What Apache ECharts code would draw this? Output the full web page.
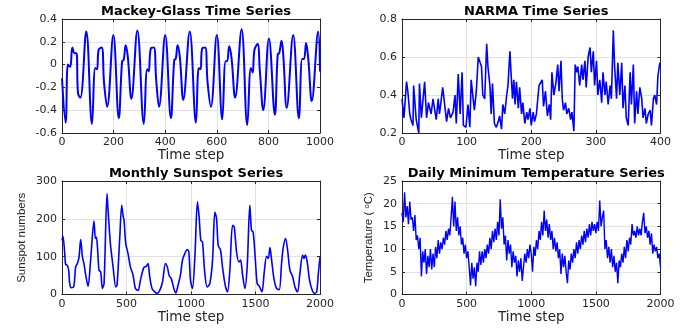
<!DOCTYPE html>
<html>
<head>
<meta charset="utf-8">
<script src="https://cdn.jsdelivr.net/npm/echarts@6/dist/echarts.min.js"></script>
<style>
  html, body { margin: 0; padding: 0; background: #fff; }
  #chart { width: 697px; height: 332px; }
</style>
</head>
<body>
<div id="chart"></div>
<script>
// Mackey-Glass: turning points
const mgT = [0, 14, 23, 32, 40, 49, 56, 62, 71, 94, 116, 129, 136, 142, 154, 163, 175, 199, 220, 233, 239, 247, 255, 269,
  292, 317, 330, 336, 344, 356, 365, 376, 400, 422, 435, 441, 448, 457, 470, 495, 519, 530, 537, 543, 555, 564, 577,
  600, 621, 634, 640, 648, 657, 671, 696, 718, 732, 739, 746, 758, 767, 780, 802, 825, 836, 842, 851, 858, 871, 896,
  918, 931, 938, 946, 955, 968, 993, 1000];
const mgV = [-0.12, -0.51, 0.0, -0.02, 0.15, 0.10, 0.10, -0.25, -0.29, 0.29, -0.52, -0.03, -0.04, 0.13, 0.15, -0.16, -0.37,
  0.26, -0.47, 0.03, 0.04, 0.17, 0.07, -0.30, 0.30, -0.52, -0.04, -0.06, 0.14, 0.15, -0.13, -0.37, 0.26, -0.47, 0.04,
  0.05, 0.17, 0.06, -0.31, 0.29, -0.51, -0.03, -0.04, 0.14, 0.15, -0.15, -0.37, 0.26, -0.48, 0.03, 0.03, 0.16, 0.06,
  -0.29, 0.31, -0.53, -0.03, -0.07, 0.13, 0.18, -0.06, -0.40, 0.23, -0.44, 0.09, 0.10, 0.21, 0.07, -0.38, 0.26, -0.47,
  0.05, 0.05, 0.19, 0.04, -0.32, 0.29, -0.06];

// NARMA
const narmaT = [0, 3, 7, 9, 12, 14, 17, 18, 22, 26, 27, 30, 33, 35, 38, 41, 45, 48, 53, 56, 58, 63, 66, 69, 72, 75, 79,
  82, 84, 87, 90, 93, 95, 99, 102, 105, 107, 110, 112, 115, 118, 120, 123, 125, 128, 131, 133, 136, 138, 140, 143, 146,
  149, 151, 154, 156, 159, 162, 164, 167, 169, 171, 173, 175, 177, 180, 182, 185, 187, 190, 193, 195, 198, 200, 203,
  205, 208, 212, 214, 217, 219, 222, 225, 228, 230, 232, 235, 238, 241, 243, 246, 248, 250, 253, 255, 258, 261, 263,
  266, 268, 270, 272, 275, 278, 280, 283, 285, 288, 291, 293, 296, 298, 301, 303, 306, 309, 311, 314, 316, 319, 322,
  324, 327, 329, 332, 334, 337, 340, 342, 345, 347, 350, 353, 355, 358, 360, 363, 365, 368, 371, 373, 376, 378, 381,
  384, 386, 389, 391, 394, 396, 399];
const narmaV = [0.38, 0.28, 0.47, 0.42, 0.30, 0.27, 0.24, 0.45, 0.27, 0.20, 0.46, 0.28, 0.29, 0.47, 0.28, 0.36, 0.30,
  0.38, 0.27, 0.38, 0.30, 0.44, 0.35, 0.26, 0.33, 0.28, 0.31, 0.40, 0.25, 0.51, 0.30, 0.52, 0.24, 0.23, 0.35, 0.23,
  0.48, 0.49, 0.32, 0.42, 0.60, 0.60, 0.55, 0.40, 0.38, 0.67, 0.55, 0.45, 0.30, 0.46, 0.25, 0.23, 0.26, 0.29, 0.22,
  0.35, 0.30, 0.40, 0.45, 0.63, 0.50, 0.38, 0.48, 0.35, 0.47, 0.33, 0.44, 0.30, 0.36, 0.25, 0.31, 0.27, 0.33, 0.24,
  0.31, 0.26, 0.30, 0.45, 0.44, 0.48, 0.34, 0.42, 0.29, 0.35, 0.27, 0.52, 0.40, 0.46, 0.56, 0.42, 0.58, 0.38, 0.32,
  0.36, 0.30, 0.33, 0.27, 0.31, 0.21, 0.56, 0.52, 0.55, 0.45, 0.56, 0.48, 0.58, 0.44, 0.60, 0.65, 0.52, 0.63, 0.45,
  0.58, 0.40, 0.48, 0.36, 0.52, 0.40, 0.47, 0.35, 0.45, 0.38, 0.74, 0.55, 0.38, 0.57, 0.40, 0.57, 0.33, 0.45, 0.28,
  0.24, 0.52, 0.35, 0.56, 0.25, 0.42, 0.30, 0.44, 0.38, 0.28, 0.33, 0.25, 0.30, 0.32, 0.24, 0.38, 0.40, 0.35, 0.50,
  0.57];

// monthly sunspots
const sunT = [0, 8, 21, 28, 41, 52, 60, 72, 91, 106, 119, 132, 145, 158, 171, 184, 202, 222, 248, 259, 266, 274, 287,
  300, 313, 326, 349, 357, 375, 396, 417, 427, 448, 463, 473, 481, 494, 512, 530, 551, 569, 590, 608, 634, 655, 667,
  680, 698, 719, 737, 758, 779, 802, 818, 830, 849, 867, 882, 900, 918, 934, 952, 970, 983, 996, 1011, 1030, 1050,
  1063, 1076, 1089, 1105, 1125, 1146, 1167, 1185, 1198, 1211, 1229, 1244, 1265, 1283, 1301, 1322, 1335, 1353, 1371,
  1384, 1400, 1418, 1436, 1456, 1469, 1482, 1500, 1513, 1529, 1550, 1568, 1586, 1599, 1612, 1625, 1643, 1663, 1684,
  1702, 1715, 1733, 1749, 1767, 1788, 1806, 1826, 1844, 1865, 1876, 1886, 1901, 1917, 1935, 1956, 1974, 1987, 2000];
const sunV = [143, 154, 108, 80, 77, 64, 29, 18, 20, 73, 82, 99, 145, 101, 80, 51, 22, 91, 194, 148, 152, 130, 64, 60,
  16, 29, 267, 223, 135, 73, 20, 25, 152, 236, 209, 196, 135, 108, 73, 51, 16, 11, 38, 71, 75, 82, 47, 16, 7, 3, 11,
  33, 82, 71, 51, 40, 16, 4, 25, 51, 91, 108, 119, 113, 38, 16, 99, 245, 205, 143, 139, 64, 20, 29, 91, 218, 201, 130,
  117, 73, 25, 7, 64, 183, 179, 113, 86, 91, 51, 16, 77, 236, 170, 165, 86, 29, 22, 7, 60, 101, 95, 124, 91, 42, 16,
  13, 82, 124, 148, 117, 64, 47, 20, 7, 55, 104, 95, 104, 86, 42, 16, 3, 7, 55, 99];

// daily minimum temperature, one reading every 10 steps
const TEMP_STEP = 10;
const tempV = [
  18, 16, 22.5, 17, 19.5, 15.5, 20.5, 16.5, 17, 14,
  17.5, 12, 13, 10, 12.5, 4, 9.5, 7, 10, 4.5,
  8.5, 6, 10, 5.5, 9, 6, 10.5, 8, 12, 9,
  11.5, 10, 12.5, 11, 14, 12, 14.5, 13, 17, 21.5,
  15, 20.5, 14, 17, 13, 15, 11, 12.5, 9, 11,
  8, 9.5, 6, 2, 7, 3.5, 6, 1.8, 7, 5,
  9.5, 6.5, 9.5, 7, 10, 8, 11, 9, 12.5, 10,
  14, 11.5, 14.5, 12, 16, 13, 21, 14.5, 17, 11,
  13, 7.5, 12, 9, 11, 6, 9.5, 7, 8.5, 4,
  7.5, 5, 8, 3, 6, 9, 7, 10, 8, 11,
  9, 5, 10.5, 8.5, 12, 10, 14, 12, 16, 13,
  18.5, 14, 16.5, 12.5, 15.5, 12, 14, 10, 12.5, 9.5,
  11.5, 8, 10, 4.5, 9, 6, 8.5, 5, 2.5, 7.5,
  5.5, 9, 7, 10, 8, 11.5, 9, 12, 10, 13,
  11, 14, 11.5, 14.5, 12.5, 15.5, 13, 16, 14, 15.5,
  13.5, 16, 14, 20.7, 15, 17, 18.5, 10, 12, 8,
  10.5, 7, 10, 6, 8.5, 5, 7, 2.5, 7.5, 6,
  9, 7, 10.5, 8, 12, 9.5, 12.5, 11, 15.5, 13,
  14, 12.5, 15, 13, 14.5, 13, 16, 18, 13.5, 15,
  12.5, 14, 11, 13.5, 9, 11, 9.5, 10.5, 8, 9,
  6];

const titles = ['Mackey-Glass Time Series', 'NARMA Time Series', 'Monthly Sunspot Series', 'Daily Minimum Temperature Series'];
const yNames = ['', '', 'Sunspot numbers', '{a|Temperature ( }{s|o}{a|C)}'];

const AXIS_COLOR = '#262626';
const GRID_COLOR = '#e2e2e2';
const FONT = 'DejaVu Sans';

// plot boxes, in pixels
const boxes = [
  {left: 62, top: 19, width: 258, height: 114},
  {left: 402, top: 19, width: 258.5, height: 114},
  {left: 62, top: 181, width: 258, height: 113.5},
  {left: 402, top: 181, width: 258.5, height: 113.5}
];
const xRange = [[0, 1000, 200], [0, 400, 100], [0, 2000, 500], [0, 2000, 500]];
const yRange = [[-0.6, 0.4, 0.2], [0.2, 0.8, 0.2], [0, 300, 100], [0, 25, 5]];

function pairs(t, v) {
  return t.map((x, i) => [x, v[i]]);
}

// plain numbers, no thousands separator
function tickText(v) {
  return String(Math.round(v * 100) / 100);
}

const chart = echarts.init(document.getElementById('chart'));

const xAxes = [];
const yAxes = [];
// main axes (bottom / left) first, then the box sides (top / right)
for (let i = 0; i < 4; i++) {
  xAxes.push({
    type: 'value', gridIndex: i, min: xRange[i][0], max: xRange[i][1], interval: xRange[i][2],
    name: 'Time step', nameLocation: 'middle', nameGap: 15,
    nameTextStyle: {fontFamily: FONT, fontSize: 13.5, color: AXIS_COLOR},
    axisLine: {onZero: false, lineStyle: {color: AXIS_COLOR, width: 1}},
    axisTick: {inside: true, length: 3, lineStyle: {color: AXIS_COLOR}},
    axisLabel: {fontFamily: FONT, fontSize: 11, color: AXIS_COLOR, margin: 4, formatter: tickText},
    splitLine: {show: true, lineStyle: {color: GRID_COLOR, width: 1}}
  });
  yAxes.push({
    type: 'value', gridIndex: i, min: yRange[i][0], max: yRange[i][1], interval: yRange[i][2],
    name: yNames[i], nameLocation: 'middle', nameGap: i === 3 ? 27 : 34,
    nameTextStyle: {
      fontFamily: 'Liberation Sans', fontSize: 11.5, color: AXIS_COLOR,
      rich: {
        a: {fontFamily: 'Liberation Sans', fontSize: 11.5, color: AXIS_COLOR},
        s: {fontFamily: 'Liberation Sans', fontSize: 7.5, color: AXIS_COLOR, verticalAlign: 'top'}
      }
    },
    axisLine: {show: true, onZero: false, lineStyle: {color: AXIS_COLOR, width: 1}},
    axisTick: {show: true, inside: true, length: 3, lineStyle: {color: AXIS_COLOR}},
    axisLabel: {fontFamily: FONT, fontSize: 11, color: AXIS_COLOR, margin: 5, formatter: tickText},
    splitLine: {show: true, lineStyle: {color: GRID_COLOR, width: 1}}
  });
}
for (let i = 0; i < 4; i++) {
  xAxes.push({
    type: 'value', gridIndex: i, position: 'top', min: xRange[i][0], max: xRange[i][1], interval: xRange[i][2],
    axisLine: {onZero: false, lineStyle: {color: AXIS_COLOR, width: 1}},
    axisTick: {inside: true, length: 3, lineStyle: {color: AXIS_COLOR}},
    axisLabel: {show: false},
    splitLine: {show: false}
  });
  yAxes.push({
    type: 'value', gridIndex: i, position: 'right', min: yRange[i][0], max: yRange[i][1], interval: yRange[i][2],
    axisLine: {show: true, onZero: false, lineStyle: {color: AXIS_COLOR, width: 1}},
    axisTick: {show: true, inside: true, length: 3, lineStyle: {color: AXIS_COLOR}},
    axisLabel: {show: false},
    splitLine: {show: false}
  });
}

const lineBase = {type: 'line', showSymbol: false, silent: true, animation: false};

chart.setOption({
  backgroundColor: '#fff',
  title: titles.map((t, i) => ({
    text: t,
    left: boxes[i].left + boxes[i].width / 2,
    top: boxes[i].top - 19,
    textAlign: 'center',
    textStyle: {fontFamily: FONT, fontSize: 13, fontWeight: 'bold', color: '#000'}
  })),
  grid: boxes.map(b => Object.assign({containLabel: false}, b)),
  xAxis: xAxes,
  yAxis: yAxes,
  series: [
    Object.assign({}, lineBase, {
      xAxisIndex: 0, yAxisIndex: 0, smooth: 0.4,
      data: pairs(mgT, mgV),
      lineStyle: {color: '#0000ff', width: 2}
    }),
    Object.assign({}, lineBase, {
      xAxisIndex: 1, yAxisIndex: 1,
      data: pairs(narmaT, narmaV),
      lineStyle: {color: '#0000ff', width: 1.6}
    }),
    Object.assign({}, lineBase, {
      xAxisIndex: 2, yAxisIndex: 2, smooth: 0.3,
      data: pairs(sunT, sunV),
      lineStyle: {color: '#0000ff', width: 1.6}
    }),
    Object.assign({}, lineBase, {
      xAxisIndex: 3, yAxisIndex: 3,
      data: tempV.map((v, i) => [i * TEMP_STEP, v]),
      lineStyle: {color: '#0000ff', width: 1.4}
    })
  ]
});
</script>
</body>
</html>
